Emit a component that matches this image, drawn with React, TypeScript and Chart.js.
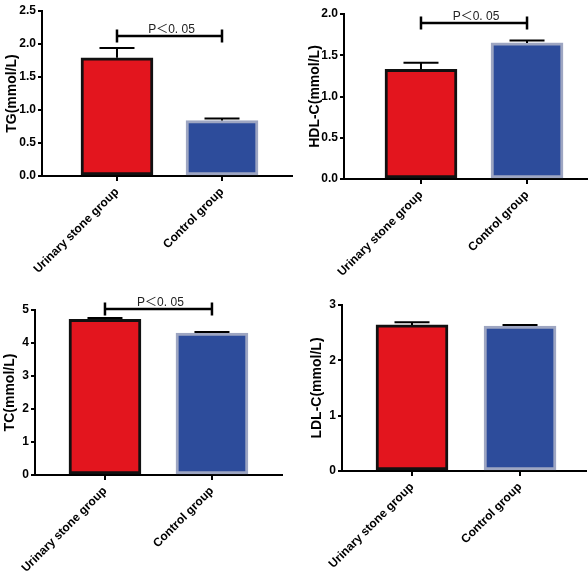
import React, { useEffect, useRef } from "react";
import { Chart, registerables } from "chart.js";

Chart.register(...registerables);

// ---- data ----
const categories = ["Urinary stone group", "Control group"];
const tgMeans = [1.79, 0.84];
const tgSD = [0.15, 0.03];
const hdlMeans = [1.33, 1.65];
const hdlSD = [0.08, 0.03];
const tcMeans = [4.72, 4.3];
const tcSD = [0.04, 0.03];
const ldlMeans = [2.64, 2.62];
const ldlSD = [0.05, 0.02];
const pLabel = "P\uFF1C0. 05";

const barColors = ["#E3151E", "#2D4C9B"];
const barBorders = ["#111111", "#9EA6C2"];
const FONT = 'Arial, "Liberation Sans", "Noto Sans CJK SC", sans-serif';

type PanelCfg = {
  title: string;
  means: number[];
  sd: number[];
  yMax: number;
  step: number;
  dec: number;
  bracket: number | null;
  left: number;
  top: number;
  width: number;
  height: number;
  padTop: number;
  yW: number;
  xH: number;
  xMin: number;
  xMax: number;
};

const panels: PanelCfg[] = [
  { title: "TG(mmol/L)", means: tgMeans, sd: tgSD, yMax: 2.5, step: 0.5, dec: 1, bracket: 2.12,
    left: 4, top: 0, width: 289, height: 292, padTop: 11, yW: 38, xH: 116, xMin: 0.286, xMax: 2.676 },
  { title: "HDL-C(mmol/L)", means: hdlMeans, sd: hdlSD, yMax: 2.0, step: 0.5, dec: 1, bracket: 1.89,
    left: 307, top: 0, width: 281, height: 292, padTop: 14, yW: 37, xH: 113, xMin: 0.274, xMax: 2.575 },
  { title: "TC(mmol/L)", means: tcMeans, sd: tcSD, yMax: 5, step: 1, dec: 0, bracket: 5.03,
    left: 2, top: 292, width: 281, height: 292, padTop: 18, yW: 33, xH: 109, xMin: 0.346, xMax: 2.664 },
  { title: "LDL-C(mmol/L)", means: ldlMeans, sd: ldlSD, yMax: 3, step: 1, dec: 0, bracket: null,
    left: 309, top: 292, width: 278, height: 292, padTop: 13, yW: 33, xH: 113, xMin: 0.352, xMax: 2.62 },
];

function Panel({ cfg }: { cfg: PanelCfg }) {
  const ref = useRef<HTMLCanvasElement>(null);
  useEffect(() => {
    const c = cfg;
    const errPlugin = {
      id: "errBars",
      afterDatasetsDraw(chart: any) {
        const ctx = chart.ctx;
        const xs = chart.scales.x;
        const ys = chart.scales.y;
        ctx.save();
        ctx.strokeStyle = "#000";
        ctx.lineWidth = 2;
        c.means.forEach((m, i) => {
          const x = xs.getPixelForValue(i + 1);
          const y0 = ys.getPixelForValue(m);
          const y1 = ys.getPixelForValue(m + c.sd[i]);
          ctx.beginPath();
          ctx.moveTo(x, y0);
          ctx.lineTo(x, y1);
          ctx.moveTo(x - 17.5, y1);
          ctx.lineTo(x + 17.5, y1);
          ctx.stroke();
        });
        if (c.bracket != null) {
          const xa = xs.getPixelForValue(1);
          const xb = xs.getPixelForValue(2);
          const yb = ys.getPixelForValue(c.bracket);
          ctx.lineWidth = 2.5;
          ctx.beginPath();
          ctx.moveTo(xa, yb);
          ctx.lineTo(xb, yb);
          ctx.moveTo(xa, yb - 6.5);
          ctx.lineTo(xa, yb + 6.5);
          ctx.moveTo(xb, yb - 6.5);
          ctx.lineTo(xb, yb + 6.5);
          ctx.stroke();
          ctx.fillStyle = "#222";
          ctx.font = `12px ${FONT}`;
          ctx.textAlign = "center";
          ctx.textBaseline = "alphabetic";
          ctx.fillText(pLabel, (xa + xb) / 2 + 2, yb - 3);
        }
        ctx.restore();
      },
    };

    const chart = new Chart(ref.current as HTMLCanvasElement, {
      type: "bar",
      data: {
        datasets: [
          {
            data: c.means.map((v, i) => ({ x: i + 1, y: v })),
            backgroundColor: barColors,
            borderColor: barBorders,
            borderWidth: 3,
            borderSkipped: false,
            barThickness: 72,
          } as any,
        ],
      },
      options: {
        responsive: false,
        animation: false,
        layout: { padding: { top: c.padTop, left: 0, right: 0, bottom: 0 } },
        plugins: { legend: { display: false }, tooltip: { enabled: false } },
        scales: {
          x: {
            type: "linear",
            min: c.xMin,
            max: c.xMax,
            offset: false,
            afterBuildTicks: (s: any) => {
              s.ticks = categories.map((_, i) => ({ value: i + 1 }));
            },
            afterFit: (s: any) => {
              s.height = c.xH;
            },
            ticks: {
              callback: (v: any) => categories[Math.round(Number(v)) - 1] ?? "",
              minRotation: 45,
              maxRotation: 45,
              autoSkip: false,
              color: "#000",
              font: { family: FONT, size: 12, weight: "bold" },
              padding: 4,
            },
            grid: { offset: false, drawOnChartArea: false, drawTicks: true, tickLength: 5, color: "#000", lineWidth: 2 },
            border: { display: true, color: "#000", width: 2 },
          },
          y: {
            min: 0,
            max: c.yMax,
            afterFit: (s: any) => {
              s.width = c.yW;
            },
            ticks: {
              stepSize: c.step,
              callback: (v: any) => Number(v).toFixed(c.dec),
              color: "#000",
              font: { family: FONT, size: 12, weight: "bold" },
              padding: 2,
            },
            title: {
              display: true,
              text: c.title,
              color: "#000",
              font: { family: FONT, size: 14, weight: "bold" },
              padding: 0,
            },
            grid: { drawOnChartArea: false, drawTicks: true, tickLength: 4, color: "#000", lineWidth: 2 },
            border: { display: true, color: "#000", width: 2 },
          },
        },
      } as any,
      plugins: [errPlugin],
    });
    return () => chart.destroy();
  }, [cfg]);

  return (
    <canvas
      ref={ref}
      width={cfg.width}
      height={cfg.height}
      style={{ position: "absolute", left: cfg.left, top: cfg.top, width: cfg.width, height: cfg.height, display: "block" }}
    />
  );
}

export default function App() {
  return (
    <div style={{ position: "absolute", left: 0, top: 0, width: 588, height: 584, background: "#fff", overflow: "hidden" }}>
      {panels.map((p) => (
        <Panel key={p.title} cfg={p} />
      ))}
    </div>
  );
}
